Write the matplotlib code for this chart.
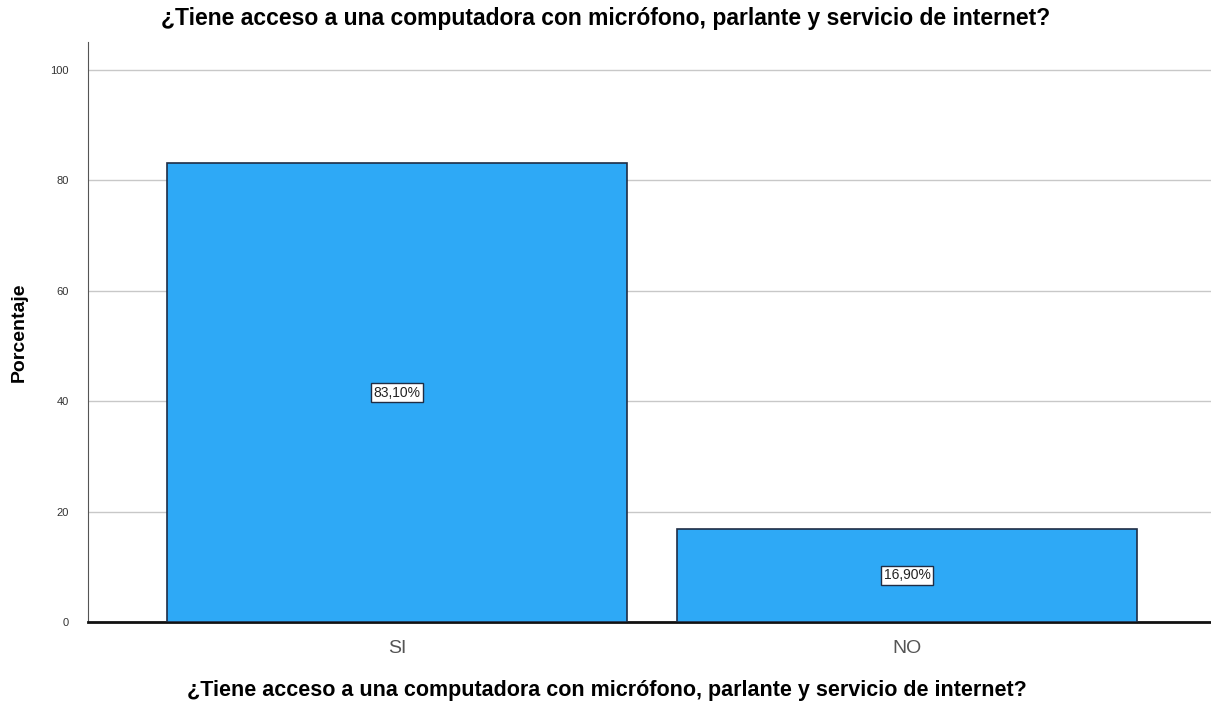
import matplotlib.pyplot as plt

plt.rcParams['font.family'] = ['Liberation Sans', 'DejaVu Sans']

categories = ['SI', 'NO']
percentages = [83.10, 16.90]
bar_labels = ['83,10%', '16,90%']
question = '¿Tiene acceso a una computadora con micrófono, parlante y servicio de internet?'

fig = plt.figure(figsize=(12.11, 7.05), dpi=100)
ax = fig.add_axes([0.0727, 0.1177, 0.9273, 0.8223])

x = range(len(categories))
bars = ax.bar(x, percentages, width=0.902, color='#2ea9f6', edgecolor='#1f2d45', linewidth=1.2, zorder=3)

for bar, lab in zip(bars, bar_labels):
    ax.text(bar.get_x() + bar.get_width() / 2, bar.get_height() / 2, lab,
            ha='center', va='center', fontsize=10, color='#222222', zorder=4,
            bbox=dict(boxstyle='square,pad=0.2', facecolor='white', edgecolor='#1f2d45', linewidth=1))

ax.set_xlim(-0.606, 1.596)
ax.set_ylim(0, 105)
ax.set_yticks([0, 20, 40, 60, 80, 100])
ax.yaxis.grid(True, color='#c8c8c8', linewidth=1, zorder=0)
ax.set_xticks(list(x))
ax.set_xticklabels(categories, fontsize=14, color='#555555')
ax.tick_params(axis='y', labelsize=8, colors='#333333', length=0, pad=14)
ax.tick_params(axis='x', length=0, pad=13)

for s in ['top', 'right']:
    ax.spines[s].set_visible(False)
ax.spines['left'].set_color('#555555')
ax.spines['bottom'].set_color('#111111')
ax.spines['bottom'].set_linewidth(2)

ax.set_ylabel('Porcentaje', fontsize=14, fontweight='bold', labelpad=16)
fig.text(0.501, 0.021, question, ha='center', va='center', fontsize=15.5, fontweight='bold')
fig.text(0.5, 0.974, question, ha='center', va='center', fontsize=16.5, fontweight='bold')

fig.savefig('out.png', dpi=100)
